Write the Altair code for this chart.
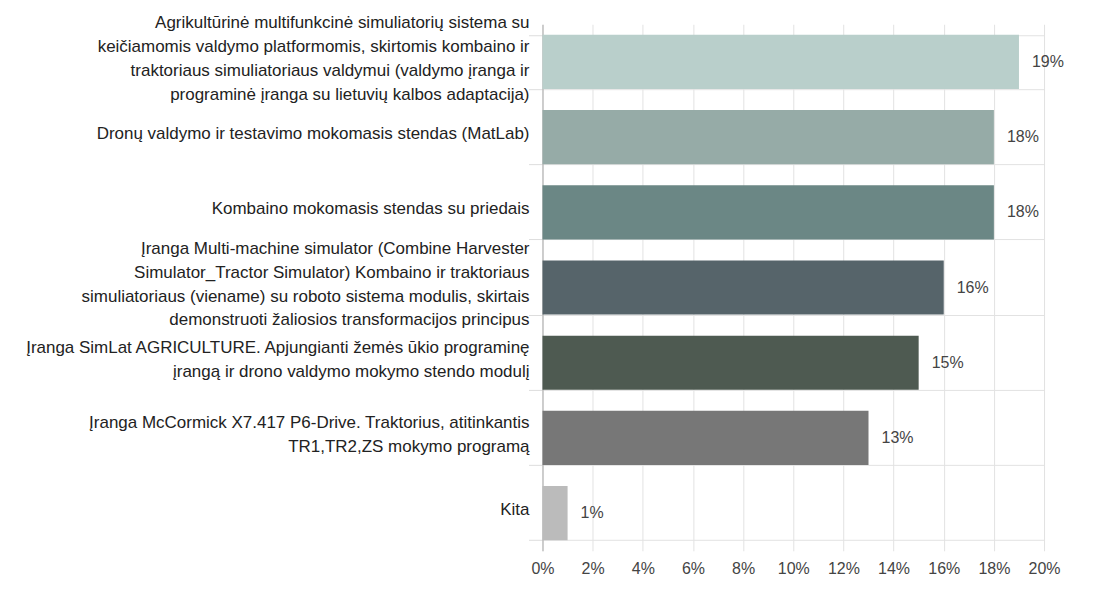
import altair as alt
import pandas as pd

categories = [
    "Agrikultūrinė multifunkcinė simuliatorių sistema su\nkeičiamomis valdymo platformomis, skirtomis kombaino ir\ntraktoriaus simuliatoriaus valdymui  (valdymo įranga ir\nprograminė įranga su lietuvių kalbos adaptacija)",
    "Dronų valdymo ir testavimo mokomasis stendas (MatLab)",
    "Kombaino mokomasis stendas su priedais",
    "Įranga Multi-machine simulator (Combine Harvester\nSimulator_Tractor Simulator) Kombaino ir traktoriaus\nsimuliatoriaus (viename) su roboto sistema modulis, skirtais\ndemonstruoti žaliosios transformacijos principus",
    "Įranga SimLat AGRICULTURE. Apjungianti žemės ūkio programinę\nįrangą ir drono valdymo mokymo stendo modulį",
    "Įranga McCormick X7.417 P6-Drive. Traktorius, atitinkantis\nTR1,TR2,ZS mokymo programą",
    "Kita",
]
values = [19, 18, 18, 16, 15, 13, 1]
colors = ["#B9CFCB", "#96ABA7", "#6B8785", "#56646A", "#4E5A51", "#777777", "#BBBBBB"]
x_ticks = [0, 2, 4, 6, 8, 10, 12, 14, 16, 18, 20]

df = pd.DataFrame({"cat": categories, "val": values, "color": colors,
                   "lbl": [f"{v}%" for v in values]})

FONT = "Liberation Sans"
LINE_H = 24
PLOT_H = 527
N = len(categories)
HALF_BAND = PLOT_H / N * 0.72 / 2

y_enc = alt.Y(
    "cat:N",
    sort=None,
    scale=alt.Scale(paddingInner=0.28, paddingOuter=0.14),
    axis=alt.Axis(
        title=None,
        labels=False,
        tickBand="extent",
        tickSize=14,
        tickColor="#dddddd",
        grid=True,
        gridColor="#e2e2e2",
        domainColor="#aaaaaa",
    ),
)

x_enc = alt.X(
    "val:Q",
    scale=alt.Scale(domain=[0, 20], nice=False),
    axis=alt.Axis(
        title=None,
        values=x_ticks,
        labelExpr="datum.value + '%'",
        labelFontSize=16,
        labelFont=FONT,
        labelColor="#444444",
        labelPadding=10,
        labelFlush=False,
        ticks=False,
        domain=False,
        grid=True,
        gridColor="#e2e2e2",
    ),
)

bars = alt.Chart(df).mark_bar(opacity=1).encode(
    x=x_enc,
    y=y_enc,
    color=alt.Color("color:N", scale=None),
)

cat_labels = alt.Chart(df).transform_calculate(
    off=f"{HALF_BAND} - (length(split(datum.cat, '\\n')) - 1) * {LINE_H / 2} - 3"
).mark_text(
    align="right", baseline="middle", lineBreak="\n", lineHeight=LINE_H,
    fontSize=17, font=FONT, color="#222222",
).encode(
    x=alt.value(-13),
    y=alt.Y("cat:N", sort=None),
    yOffset=alt.YOffset("off:Q", scale=None),
    text="cat:N",
)

text = alt.Chart(df).mark_text(
    align="left", baseline="middle", dx=13, fontSize=16, font=FONT, color="#444444"
).encode(
    x="val:Q",
    y=alt.Y("cat:N", sort=None),
    text="lbl:N",
)

chart = (
    alt.layer(bars, cat_labels, text)
    .properties(
        width=502,
        height=PLOT_H,
        autosize=alt.AutoSizeParams(type="none"),
        padding={"left": 535, "top": 16, "right": 50, "bottom": 50},
        background="white",
    )
    .configure_view(stroke=None)
)

chart.save("out.html", embed_options={"renderer": "svg", "actions": False})
